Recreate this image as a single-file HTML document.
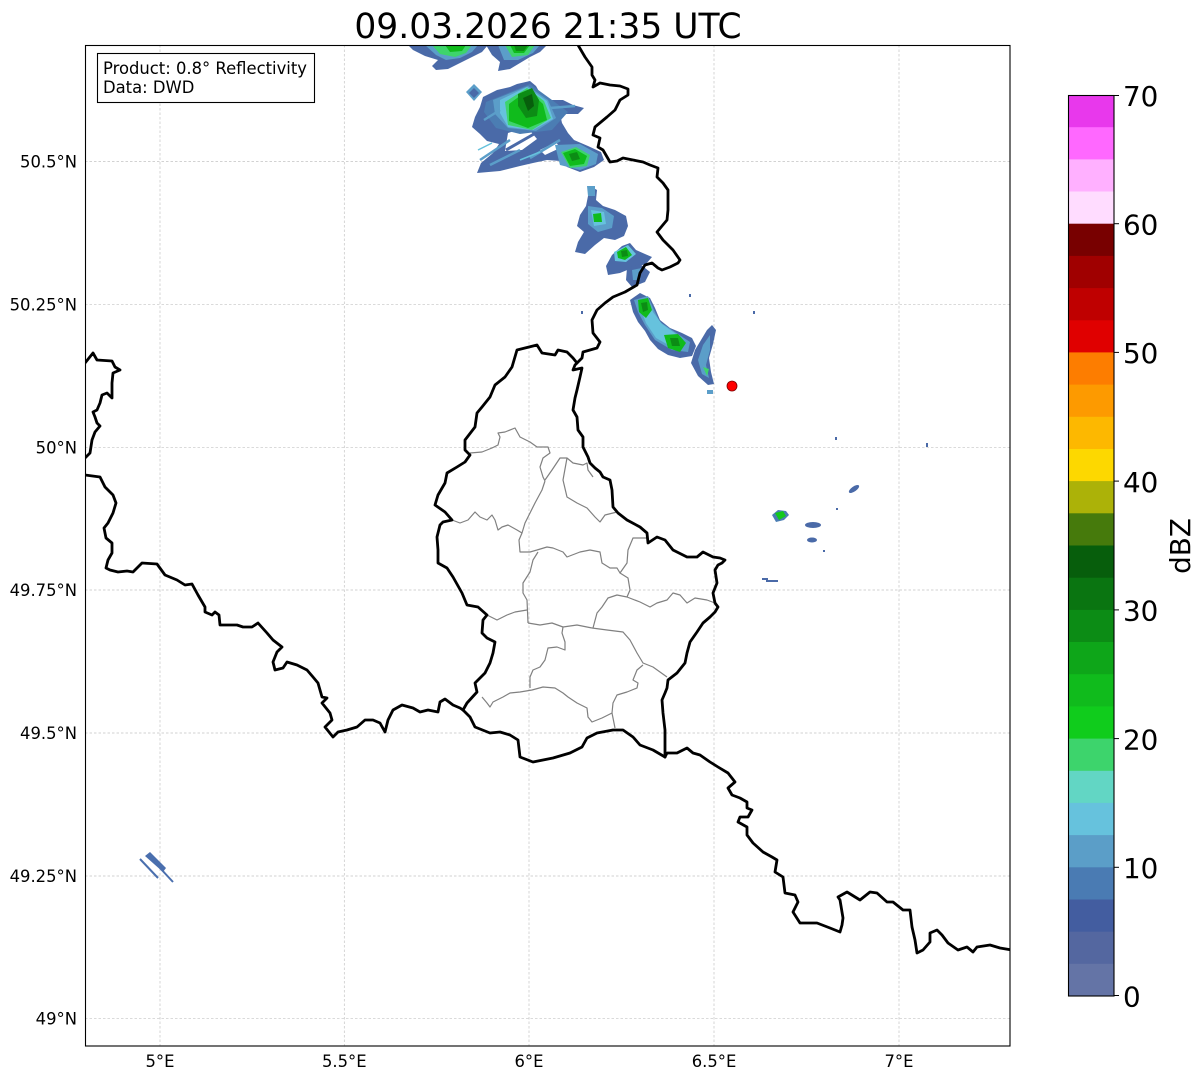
<!DOCTYPE html>
<html><head><meta charset="utf-8"><style>
html,body{margin:0;padding:0;background:#fff;}
svg{display:block;font-family:"DejaVu Sans","Liberation Sans",sans-serif;}
</style></head><body>
<svg width="1202" height="1081" viewBox="0 0 1202 1081" xmlns="http://www.w3.org/2000/svg">
<rect width="1202" height="1081" fill="#fff"/>
<defs><clipPath id="ax"><rect x="85" y="45" width="925" height="1001"/></clipPath></defs>
<text x="548" y="38" font-size="34.5" text-anchor="middle" fill="#000">09.03.2026 21:35 UTC</text>
<g clip-path="url(#ax)">
<g stroke="#c4c4c4" stroke-width="0.7" stroke-dasharray="2.5,2" fill="none">
<line x1="160" y1="45" x2="160" y2="1046"/><line x1="344.3" y1="45" x2="344.3" y2="1046"/><line x1="529" y1="45" x2="529" y2="1046"/><line x1="714" y1="45" x2="714" y2="1046"/><line x1="899" y1="45" x2="899" y2="1046"/>
<line x1="85" y1="161.5" x2="1010" y2="161.5"/><line x1="85" y1="304.3" x2="1010" y2="304.3"/><line x1="85" y1="447.3" x2="1010" y2="447.3"/><line x1="85" y1="590" x2="1010" y2="590"/><line x1="85" y1="733" x2="1010" y2="733"/><line x1="85" y1="876" x2="1010" y2="876"/><line x1="85" y1="1018.3" x2="1010" y2="1018.3"/>
</g>
<!-- radar echoes -->
<g>
<!-- top clusters -->
<path d="M408,45 L488,45 L482,52 L470,58 L458,64 L448,69 L436,70 L432,66 L438,60 L425,56 L413,50 Z" fill="#4a6aa8"/>
<path d="M425,45 L478,45 L472,52 L460,58 L446,60 L436,55 Z" fill="#5b9ec9"/>
<path d="M432,45 L472,45 L466,53 L455,57 L440,54 Z" fill="#3ed46c"/>
<path d="M445,45 L466,45 L462,51 L450,52 Z" fill="#10bb1c"/>
<path d="M486,45 L547,45 L540,52 L530,57 L520,63 L510,69 L498,71 L500,62 L492,55 Z" fill="#4a6aa8"/>
<path d="M498,45 L540,45 L533,53 L518,60 L504,60 Z" fill="#5b9ec9"/>
<path d="M505,45 L535,45 L528,55 L512,57 Z" fill="#3ed46c"/>
<path d="M510,45 L530,45 L524,53 L514,53 Z" fill="#10bb1c"/>
<path d="M514,45 L528,45 L524,51 L516,51 Z" fill="#0c8c15"/>
<!-- big cluster -->
<path d="M466,92 L474,84 L482,92 L474,101 Z" fill="#5b9ec9"/>
<path d="M469,93 L474,88 L479,93 L474,98 Z" fill="#4a6aa8"/>
<path d="M483,97 L497,90 L510,87 L517,84 L530,81 L536,86 L541,95 L550,100 L563,100 L573,105 L584,108 L578,114 L560,114 L562,123 L568,133 L574,140 L588,146 L601,152 L604,160 L594,167 L580,172 L567,167 L560,161 L547,160 L533,163 L520,166 L500,171 L477,173 L481,163 L493,153 L499,144 L487,141 L480,134 L472,127 L475,117 L480,107 Z" fill="#4a6aa8"/>
<path d="M508,133 L527,127 L537,139 L522,150 L505,151 Z" fill="#fff"/>
<path d="M506,150 L534,134" stroke="#4a6aa8" stroke-width="3"/>
<path d="M540,150 L556,142 L560,148 L545,155 Z" fill="#fff"/>
<path d="M486,102 L530,84 L552,100 L568,112 L552,130 L520,134 L496,128 L484,112 Z" fill="#4b7db3"/>
<path d="M493,100 L528,86 L548,100 L556,118 L536,131 L508,128 L495,114 Z" fill="#5b9ec9"/>
<path d="M500,100 L527,87 L547,101 L553,119 L533,130 L508,127 L500,113 Z" fill="#66c2dd"/>
<path d="M505,102 L527,88 L544,101 L551,118 L532,130 L508,125 Z" fill="#3ed46c"/>
<path d="M509,104 L528,90 L543,104 L547,120 L528,128 L509,121 Z" fill="#10bb1c"/>
<path d="M518,94 L532,88 L539,100 L537,116 L526,118 L518,106 Z" fill="#0c8c15"/>
<path d="M523,98 L532,94 L534,106 L528,111 Z" fill="#075e0c"/>
<path d="M555,145 L580,144 L598,154 L596,164 L580,170 L560,165 Z" fill="#5b9ec9"/>
<path d="M561,152 L576,147 L590,155 L587,166 L570,168 Z" fill="#3ed46c"/>
<path d="M563,153 L575,149 L587,156 L584,164 L570,166 Z" fill="#10bb1c"/>
<path d="M569,154 L577,152 L580,159 L572,161 Z" fill="#0c8c15"/>
<path d="M480,160 L510,140 M490,165 L520,150 M530,158 L560,140 M484,120 L500,110 M550,108 L575,106" stroke="#5b9ec9" stroke-width="2.5"/>
<path d="M478,150 L492,143 M520,160 L540,152" stroke="#66c2dd" stroke-width="1.5"/>
<!-- cluster 3 -->
<path d="M590,186 L597,190 L596,200 L603,206 L615,210 L626,216 L628,226 L624,236 L615,240 L604,238 L595,245 L585,254 L575,252 L578,242 L584,232 L577,226 L580,215 L586,206 L588,196 Z" fill="#4a6aa8"/>
<path d="M588,206 L602,208 L614,216 L612,228 L598,232 L588,224 Z" fill="#5b9ec9"/>
<path d="M591,210 L604,212 L606,224 L594,226 Z" fill="#66c2dd"/>
<path d="M593,214 L601,213 L602,222 L594,222 Z" fill="#10bb1c"/>
<path d="M587,186 L595,186 L595,196 L588,196 Z" fill="#5b9ec9"/>
<!-- cluster 4 -->
<path d="M612,255 L622,246 L630,243 L636,250 L645,254 L652,257 L646,264 L632,268 L620,273 L608,275 L606,266 Z" fill="#4a6aa8"/>
<path d="M614,252 L628,245 L636,254 L626,262 L615,261 Z" fill="#66c2dd"/>
<path d="M617,252 L626,247 L632,255 L625,260 L618,258 Z" fill="#10bb1c"/>
<path d="M621,251 L627,250 L628,256 L622,257 Z" fill="#0c8c15"/>
<path d="M627,268 L640,264 L650,272 L645,282 L632,287 L626,280 Z" fill="#4a6aa8"/>
<path d="M632,270 L642,268 L640,280 L633,280 Z" fill="#5b9ec9"/>
<!-- cluster 5 -->
<path d="M630,300 L640,293 L650,298 L655,308 L660,320 L670,328 L682,333 L692,338 L696,346 L692,356 L680,358 L668,355 L658,349 L650,340 L645,331 L638,322 L633,312 Z" fill="#4a6aa8"/>
<path d="M634,300 L648,296 L654,310 L660,322 L675,332 L690,342 L688,352 L672,350 L655,340 L645,325 L638,312 Z" fill="#5b9ec9"/>
<path d="M638,302 L648,299 L653,312 L662,324 L676,334 L686,344 L672,347 L656,338 L646,323 Z" fill="#66c2dd"/>
<path d="M638,300 L648,298 L652,310 L646,318 L639,312 Z" fill="#10bb1c"/>
<path d="M641,303 L647,302 L648,310 L643,312 Z" fill="#0c8c15"/>
<path d="M664,335 L678,334 L686,343 L680,352 L668,348 Z" fill="#10bb1c"/>
<path d="M670,338 L678,338 L680,346 L672,346 Z" fill="#0c8c15"/>
<path d="M701,340 L707,330 L712,325 L716,330 L713,344 L709,358 L711,372 L714,384 L708,385 L698,376 L691,363 L695,350 Z" fill="#4a6aa8"/>
<path d="M703,345 L710,335 L710,350 L706,365 L709,378 L702,374 L698,360 Z" fill="#5b9ec9"/>
<path d="M703,367 L709,369 L707,376 Z" fill="#3ed46c"/>
<rect x="707" y="390" width="6" height="4" fill="#5b9ec9"/>
<rect x="689" y="294" width="2" height="3" fill="#4a6aa8"/>
<rect x="753" y="311" width="2" height="3" fill="#4a6aa8"/>
<rect x="581" y="311" width="2" height="3" fill="#4a6aa8"/>
<rect x="835" y="437" width="2" height="3" fill="#4a6aa8"/>
<rect x="926" y="443" width="2" height="4" fill="#4a6aa8"/>
<!-- right echoes -->
<path d="M772,515 L778,510 L786,511 L789,515 L784,520 L776,522 Z" fill="#4b7db3"/>
<path d="M775,513 L783,511 L786,516 L779,520 Z" fill="#12c81c"/>
<ellipse cx="813" cy="525" rx="8" ry="3" fill="#4a6aa8"/>
<ellipse cx="812" cy="540" rx="5" ry="2.5" fill="#4a6aa8"/>
<ellipse cx="854" cy="489" rx="6" ry="2.5" transform="rotate(-35 854 489)" fill="#4a6aa8"/>
<rect x="762" y="578" width="6" height="2" fill="#4a6aa8"/>
<rect x="766" y="580" width="12" height="2" fill="#4a6aa8"/>
<rect x="836" y="508" width="2" height="2" fill="#4a6aa8"/>
<rect x="823" y="550" width="2" height="2" fill="#4a6aa8"/>
<!-- lower left streak -->
<path d="M145,856 L150,852 L166,868 L163,872 Z" fill="#4a6fae"/>
<path d="M140,859 L158,878 M160,868 L173,882" stroke="#4a6fae" stroke-width="2"/>
</g>
<!-- internal gray boundaries -->
<g stroke="#808080" stroke-width="1.2" fill="none" stroke-linejoin="round">
<path d="M470,453 L482,452 L492,448 L498,445 L500,437 L498,433 L505,432 L515,428 L520,437 L530,442 L537,447 L548,447 L550,453 L543,458 L540,467 L543,477 L545,481"/>
<path d="M545,480 L552,470 L560,458 L567,458 L573,463 L583,465 L587,463 L588,470 L593,477"/>
<path d="M567,458 L563,480 L567,497 L577,503 L587,508 L595,517 L600,522 L605,515 L617,512"/>
<path d="M545,481 L542,490 L535,503 L528,517 L525,523 L522,533 L519,540 L520,552 L530,552 L537,550"/>
<path d="M452,520 L460,523 L468,520 L475,512 L480,517 L487,520 L492,515 L495,520 L498,530 L502,527 L508,525 L517,530 L522,533"/>
<path d="M537,550 L547,547 L553,548 L563,552 L567,557 L580,552 L590,550 L600,552 L602,563 L610,568 L617,568 L620,573"/>
<path d="M647,538 L633,538 L628,550 L627,563 L620,573 L628,578 L630,590 L627,597"/>
<path d="M538,552 L533,560 L530,572 L523,583 L523,593 L527,600 L528,623"/>
<path d="M487,615 L497,620 L507,615 L515,612 L527,610"/>
<path d="M528,623 L540,625 L552,623 L563,627 L577,625 L592,628"/>
<path d="M627,597 L617,595 L608,598 L602,607 L597,613 L593,628"/>
<path d="M627,597 L640,602 L650,607 L657,603 L667,600 L673,593 L680,595 L687,603 L695,598 L707,600 L715,603"/>
<path d="M592,628 L607,630 L623,632 L630,640 L637,653 L643,663 L653,667 L660,672 L667,677"/>
<path d="M563,627 L562,633 L565,642 L565,650 L557,647 L548,648 L545,660 L540,667 L533,670 L530,677 L530,688"/>
<path d="M643,665 L637,670 L633,680 L638,683 L637,688 L627,692 L617,695 L613,703 L612,713 L602,718 L592,722 L588,717 L587,708 L577,703 L568,697 L563,693 L555,688 L543,687 L532,690 L520,692 L510,693 L503,697 L493,702 L490,707 L487,703 L482,697"/>
<path d="M612,713 L615,728"/>
</g>
<!-- country borders -->
<g stroke="#000" stroke-width="2.8" fill="none" stroke-linejoin="round" stroke-linecap="round">
<path d="M578,45 L585,57 L592,67 L592,75 L595,80 L593,87 L600,83 L610,85 L620,86 L628,89 L628,95 L620,100 L615,110 L607,117 L595,127 L593,135 L600,138 L598,147 L603,150 L610,162 L617,161 L623,158 L633,160 L643,162 L650,165 L658,168 L657,177 L663,183 L668,190 L668,210 L667,220 L657,232 L663,240 L673,250 L680,260 L678,263 L670,267 L662,270 L658,268 L652,263 L645,265 L640,273 L637,285 L625,292 L613,297 L605,303 L597,310 L592,320 L593,333 L600,342 L597,348 L583,352 L582,358 L575,365 L573,370 L582,368 L580,377 L577,390 L575,398 L573,410 L577,417 L578,430 L583,437 L583,447 L588,457 L590,463 L595,468 L600,472 L603,477 L610,480 L612,490 L613,507 L618,513 L627,520 L640,527 L647,533 L648,543 L657,537 L665,540 L673,550 L687,557 L697,557 L703,552 L713,557 L720,558 L725,560 L722,563 L718,565 L715,570 L717,583 L713,593 L715,603 L718,607 L715,612 L710,617 L703,623 L697,632 L690,642 L687,653 L685,663 L677,673 L668,680 L667,688 L665,693 L662,700 L663,713 L665,730 L665,757"/>
<path d="M577,363 L573,358 L567,352 L558,350 L555,355 L542,353 L537,345 L517,350 L512,367 L505,377 L495,385 L490,397 L482,407 L477,413 L475,427 L465,440 L465,450 L470,455 L465,462 L457,467 L447,473 L445,483 L438,495 L435,505 L445,512 L452,520 L443,522 L440,525 L437,537 L438,550 L438,563 L447,568 L453,577 L462,593 L467,605 L478,607 L487,615 L483,620 L482,633 L487,638 L495,642 L493,653 L490,663 L485,673 L475,683 L477,692 L467,703 L463,710"/>
<path d="M463,710 L470,717 L475,727 L490,733 L500,732 L510,735 L518,740 L520,757 L533,762 L543,760 L553,758 L570,753 L582,747 L587,738 L597,733 L613,730 L623,730 L633,737 L640,745 L653,750 L665,757"/>
<path d="M85,475 L100,477 L105,487 L113,495 L116,503 L113,513 L108,523 L104,528 L106,538 L112,543 L112,553 L108,560 L106,568 L110,570 L118,572 L127,571 L133,572 L137,568 L142,563 L157,564 L165,575 L177,580 L185,585 L192,584 L198,595 L205,607 L205,612 L212,615 L215,612 L219,615 L220,625 L227,625 L237,625 L243,627 L252,627 L258,623 L267,633 L273,640 L282,647 L277,652 L273,662 L275,670 L283,668 L287,662 L297,665 L307,670 L313,677 L318,683 L322,697 L327,698 L322,703 L330,713 L332,720 L325,727 L333,737 L338,732 L347,730 L357,727 L365,720 L373,720 L380,723 L385,732 L388,720 L393,710 L402,705 L413,708 L420,712 L428,710 L438,712 L440,702 L445,699 L453,705 L460,708 L463,710"/>
<path d="M85,363 L93,353 L97,360 L112,361 L115,367 L120,370 L113,373 L112,383 L112,398 L107,393 L102,395 L100,403 L97,410 L93,412 L95,417 L97,423 L100,426 L95,432 L92,440 L90,453 L85,458"/>
<path d="M665,757 L667,753 L677,753 L687,748 L693,753 L700,755 L710,762 L718,767 L728,773 L735,782 L728,788 L732,795 L740,798 L747,802 L747,808 L752,810 L748,817 L740,817 L738,822 L747,827 L747,835 L753,843 L763,852 L772,857 L777,860 L775,872 L783,877 L785,893 L795,895 L798,902 L793,912 L800,923 L817,923 L830,928 L840,932 L842,925 L843,918 L840,900 L838,897 L847,892 L860,900 L870,892 L877,893 L887,902 L893,902 L903,910 L910,910 L912,927 L915,940 L917,953 L923,950 L930,942 L930,933 L937,930 L942,935 L948,943 L958,950 L967,947 L973,952 L977,947 L990,945 L1000,948 L1012,950"/>
</g>
<circle cx="732" cy="386" r="5" fill="#ff0000" stroke="#7a0000" stroke-width="0.8"/>
</g>
<rect x="85.5" y="45.5" width="924.5" height="1000.5" fill="none" stroke="#000" stroke-width="1.1"/>
<!-- info box -->
<rect x="97.5" y="53.5" width="217" height="49" fill="#fff" stroke="#000" stroke-width="1.1"/>
<text x="103" y="74" font-size="16.4" fill="#000">Product: 0.8° Reflectivity</text>
<text x="103" y="93" font-size="16.4" fill="#000">Data: DWD</text>
<!-- y tick labels -->
<g font-size="16.4" text-anchor="end" fill="#000">
<text x="77" y="167.5">50.5°N</text>
<text x="77" y="310.3">50.25°N</text>
<text x="77" y="453.3">50°N</text>
<text x="77" y="596">49.75°N</text>
<text x="77" y="739">49.5°N</text>
<text x="77" y="882">49.25°N</text>
<text x="77" y="1024.3">49°N</text>
</g>
<g font-size="16.4" text-anchor="middle" fill="#000">
<text x="160" y="1067">5°E</text>
<text x="344.3" y="1067">5.5°E</text>
<text x="529" y="1067">6°E</text>
<text x="714" y="1067">6.5°E</text>
<text x="899" y="1067">7°E</text>
</g>
<!-- colorbar -->
<g>
<rect x="1068" y="95" width="46" height="32.7" fill="#e838ec"/>
<rect x="1068" y="127.2" width="46" height="32.7" fill="#ff68ff"/>
<rect x="1068" y="159.4" width="46" height="32.7" fill="#ffb0ff"/>
<rect x="1068" y="191.5" width="46" height="32.7" fill="#ffdcff"/>
<rect x="1068" y="223.7" width="46" height="32.7" fill="#780000"/>
<rect x="1068" y="255.9" width="46" height="32.7" fill="#a00000"/>
<rect x="1068" y="288.1" width="46" height="32.7" fill="#bf0000"/>
<rect x="1068" y="320.3" width="46" height="32.7" fill="#e00000"/>
<rect x="1068" y="352.4" width="46" height="32.7" fill="#fd7d00"/>
<rect x="1068" y="384.6" width="46" height="32.7" fill="#fd9a00"/>
<rect x="1068" y="416.8" width="46" height="32.7" fill="#fdb800"/>
<rect x="1068" y="449.0" width="46" height="32.7" fill="#fdd800"/>
<rect x="1068" y="481.1" width="46" height="32.7" fill="#acb208"/>
<rect x="1068" y="513.3" width="46" height="32.7" fill="#467a0c"/>
<rect x="1068" y="545.5" width="46" height="32.7" fill="#075e0c"/>
<rect x="1068" y="577.7" width="46" height="32.7" fill="#0a7511"/>
<rect x="1068" y="609.9" width="46" height="32.7" fill="#0c8c15"/>
<rect x="1068" y="642.0" width="46" height="32.7" fill="#0ea619"/>
<rect x="1068" y="674.2" width="46" height="32.7" fill="#10bb1c"/>
<rect x="1068" y="706.4" width="46" height="32.7" fill="#10cc1c"/>
<rect x="1068" y="738.6" width="46" height="32.7" fill="#3dd46c"/>
<rect x="1068" y="770.8" width="46" height="32.7" fill="#62d6c4"/>
<rect x="1068" y="802.9" width="46" height="32.7" fill="#66c2dd"/>
<rect x="1068" y="835.1" width="46" height="32.7" fill="#5b9ec8"/>
<rect x="1068" y="867.3" width="46" height="32.7" fill="#4a7bb3"/>
<rect x="1068" y="899.5" width="46" height="32.7" fill="#435da0"/>
<rect x="1068" y="931.7" width="46" height="32.3" fill="#5467a0"/>
<rect x="1068" y="963.8" width="46" height="32.2" fill="#6474a6"/>
<rect x="1068.5" y="95.5" width="45.5" height="900.5" fill="none" stroke="#000" stroke-width="1.1"/>
<g stroke="#000" stroke-width="1">
<line x1="1114" y1="95.5" x2="1119" y2="95.5"/><line x1="1114" y1="223.7" x2="1119" y2="223.7"/><line x1="1114" y1="352.4" x2="1119" y2="352.4"/><line x1="1114" y1="481.1" x2="1119" y2="481.1"/><line x1="1114" y1="609.9" x2="1119" y2="609.9"/><line x1="1114" y1="738.6" x2="1119" y2="738.6"/><line x1="1114" y1="867.3" x2="1119" y2="867.3"/><line x1="1114" y1="995.5" x2="1119" y2="995.5"/>
</g>
<g font-size="27.8" fill="#000">
<text x="1123" y="106">70</text>
<text x="1123" y="234.5">60</text>
<text x="1123" y="363">50</text>
<text x="1123" y="492">40</text>
<text x="1123" y="620.5">30</text>
<text x="1123" y="749.5">20</text>
<text x="1123" y="878">10</text>
<text x="1123" y="1006.5">0</text>
</g>
<text transform="translate(1190 546) rotate(-90)" font-size="27.8" text-anchor="middle" fill="#000">dBZ</text>
</g>
</svg>
</body></html>
